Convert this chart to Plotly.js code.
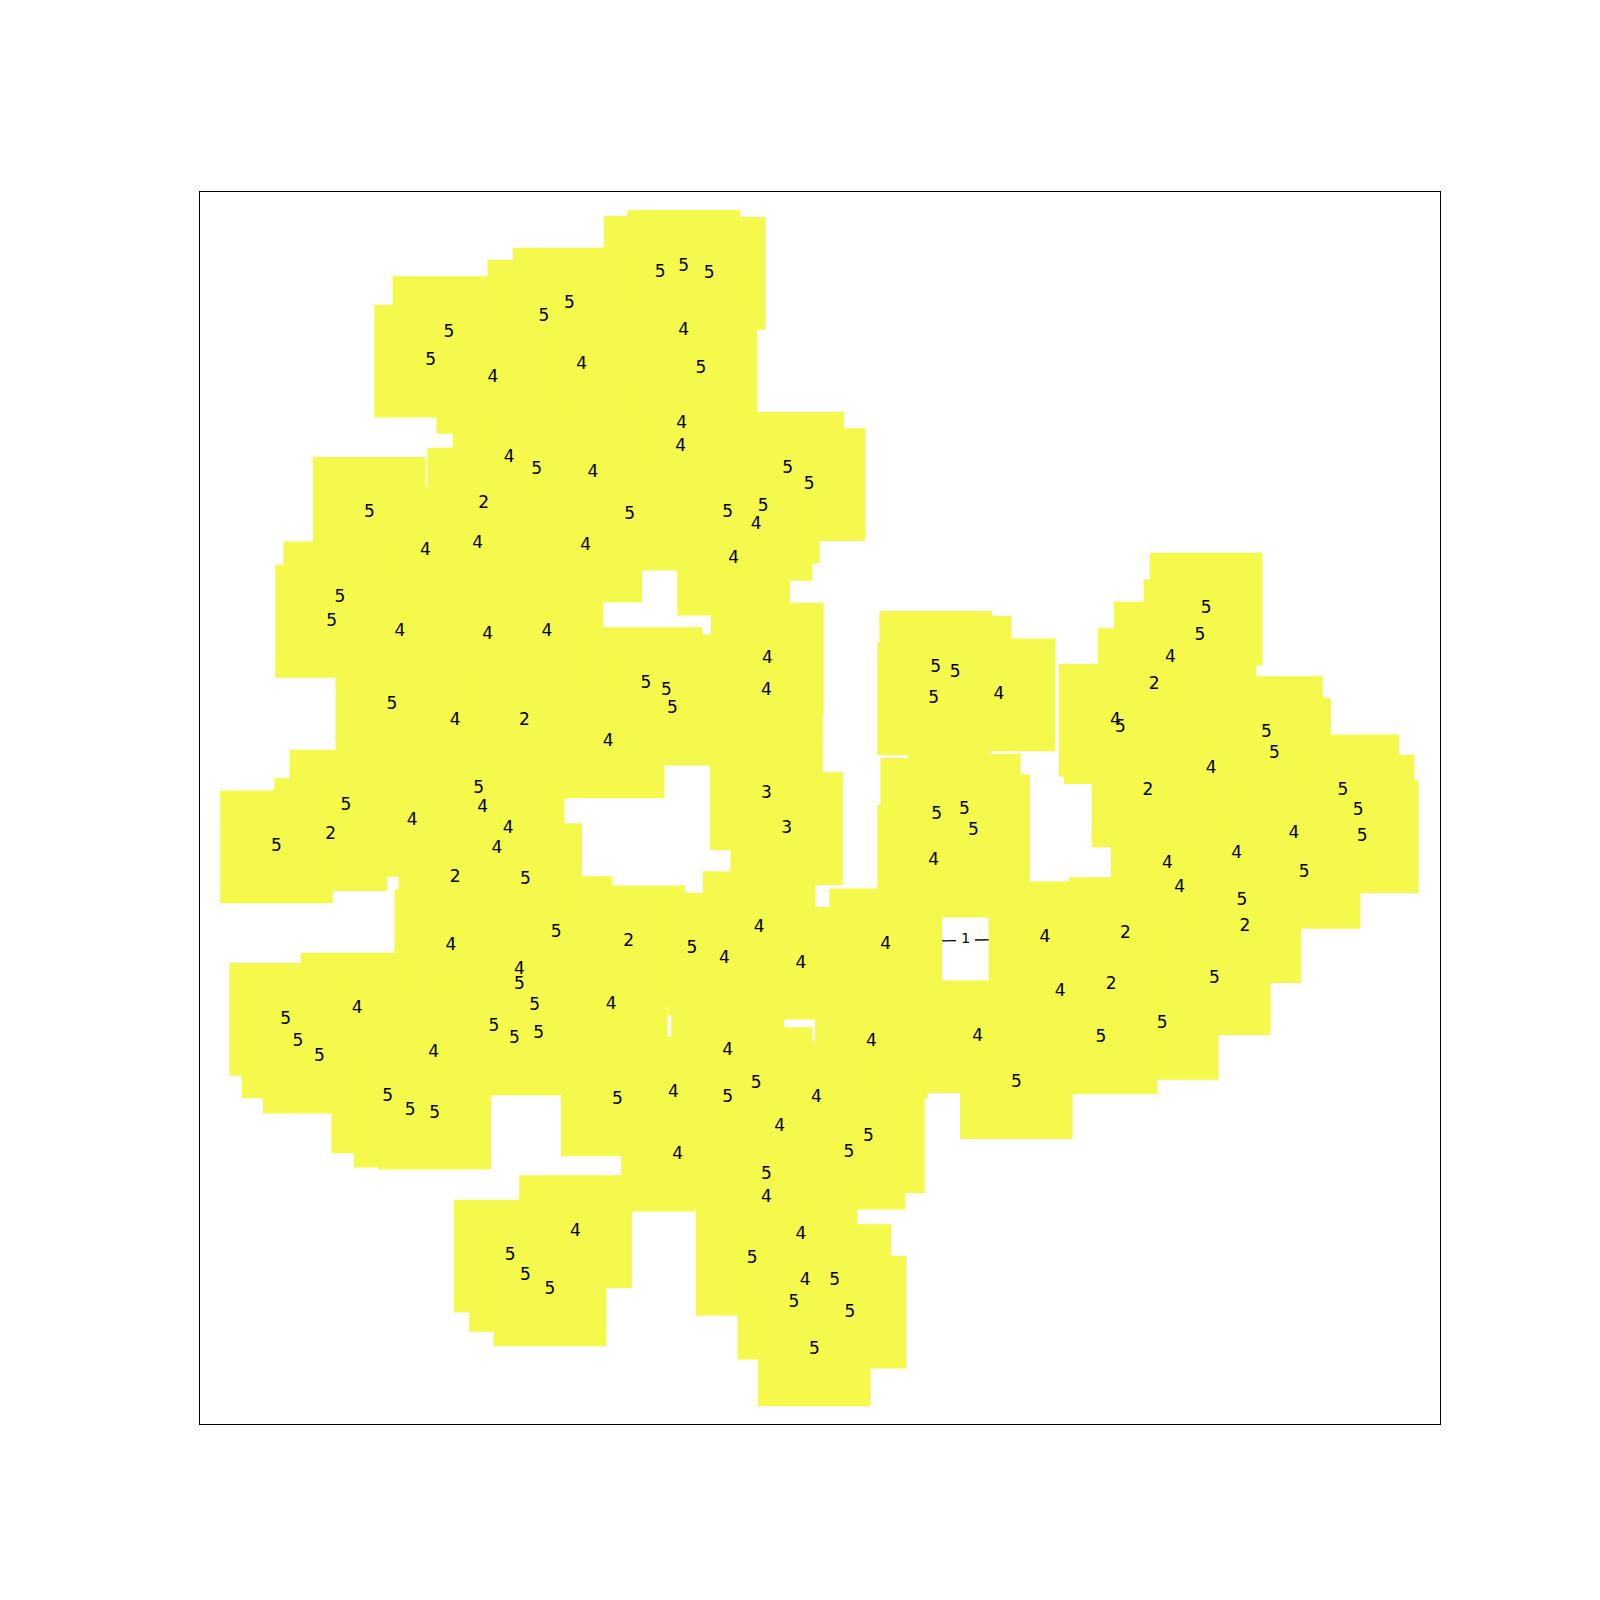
<!DOCTYPE html>
<html><head><meta charset="utf-8">
<script src="https://cdn.plot.ly/plotly-3.0.1.min.js"></script>
<style>html,body{margin:0;padding:0;background:#fff}</style>
</head><body><div id="chart" style="width:1600px;height:1600px"></div>
<script>
// Point positions (data units) and their values
const px = [647,670,695,558,533,440,670,422,570,687,483,668,667,499,526,581,772,793,474,362,617,713,748,741,417,468,574,719,333,325,392,478,536,752,633,653,659,751,384,446,514,596,751,771,469,339,473,404,498,324,271,487,446,515,545,616,744,678,710,785,868,442,509,509,350,524,599,280,484,504,528,292,313,425,713,854,958,741,380,402,426,605,660,713,800,996,764,851,832,664,751,751,564,785,500,515,539,737,789,818,778,833,798,917,936,915,979,918,945,954,915,1182,1176,1147,1131,1093,1098,1241,1249,1187,1125,1316,1331,1335,1268,1212,1144,1156,1278,1217,1220,1024,1103,1039,1089,1190,1139,1079];
const py = [267,261,268,298,310,326,324,354,357,361,370,415,438,449,460,463,459,475,494,503,504,503,497,514,540,533,535,548,586,609,619,622,619,646,670,677,695,677,691,706,706,727,778,812,773,790,792,804,812,818,830,832,860,862,914,923,909,930,940,944,926,927,950,965,989,986,985,999,1006,1018,1013,1021,1036,1032,1030,1021,1016,1062,1075,1089,1091,1078,1071,1076,1076,1061,1104,1114,1130,1132,1151,1174,1207,1210,1231,1250,1264,1234,1255,1255,1277,1286,1323,654,659,685,681,798,794,814,844,597,623,645,671,706,713,718,739,753,775,775,795,820,817,837,846,870,855,883,908,919,915,972,965,959,1003,1017];
const vals = [5,5,5,5,5,5,4,5,4,5,4,4,4,4,5,4,5,5,2,5,5,5,5,4,4,4,4,4,5,5,4,4,4,4,5,5,5,4,5,4,2,4,3,3,5,5,4,4,4,2,5,4,2,5,5,2,4,5,4,4,4,4,4,5,4,5,4,5,5,5,5,5,5,4,4,4,4,5,5,5,5,5,4,5,4,5,4,5,5,4,5,4,4,4,5,5,5,5,4,5,5,5,5,5,5,5,4,5,5,5,4,5,5,4,2,4,5,5,5,4,2,5,5,5,4,4,4,4,5,5,2,4,2,4,2,5,5,5];

// Contour level label and its visible line pieces
const contourLabel = ["1"];
const contourLabelX = [946.5];
const contourLabelY = [921];
const contourLineX = [912, 937, null, 955.5, 982];
const contourLineY = [922.3, 921.8, null, 921.2, 920.8];

const YELLOW = '#f4f94b';

const traces = [
  {type:'scatter', mode:'lines', x:contourLineX, y:contourLineY, hoverinfo:'skip',
   line:{color:'#000', width:1.4}, showlegend:false},
  {type:'scatter', mode:'markers', x:px, y:py, hoverinfo:'skip',
   marker:{symbol:'square', size:112.7, color:YELLOW, opacity:1, line:{width:0}}, showlegend:false},
  {type:'scatter', mode:'text', x:px, y:py, text:vals.map(String), hoverinfo:'skip',
   textposition:'middle center', textfont:{family:'DejaVu Sans', size:17, color:'#000'}, showlegend:false},
  {type:'scatter', mode:'text', x:contourLabelX, y:contourLabelY, text:contourLabel, hoverinfo:'skip',
   textposition:'middle center', textfont:{family:'DejaVu Sans', size:14, color:'#000'}, showlegend:false}
];

const axisCommon = {showgrid:false, zeroline:false, showticklabels:false, ticks:'',
  showline:true, mirror:true, linecolor:'#000', linewidth:1.1, fixedrange:true};

const layout = {
  width:1600, height:1600,
  margin:{l:200, r:160, t:192, b:176, pad:0},
  paper_bgcolor:'#fff', plot_bgcolor:'#fff',
  showlegend:false,
  xaxis:Object.assign({range:[196.0, 1411.2]}, axisCommon),
  yaxis:Object.assign({range:[1395.5, 188.2]}, axisCommon)
};

Plotly.newPlot('chart', traces, layout, {staticPlot:true, displayModeBar:false});
</script>
</body></html>
